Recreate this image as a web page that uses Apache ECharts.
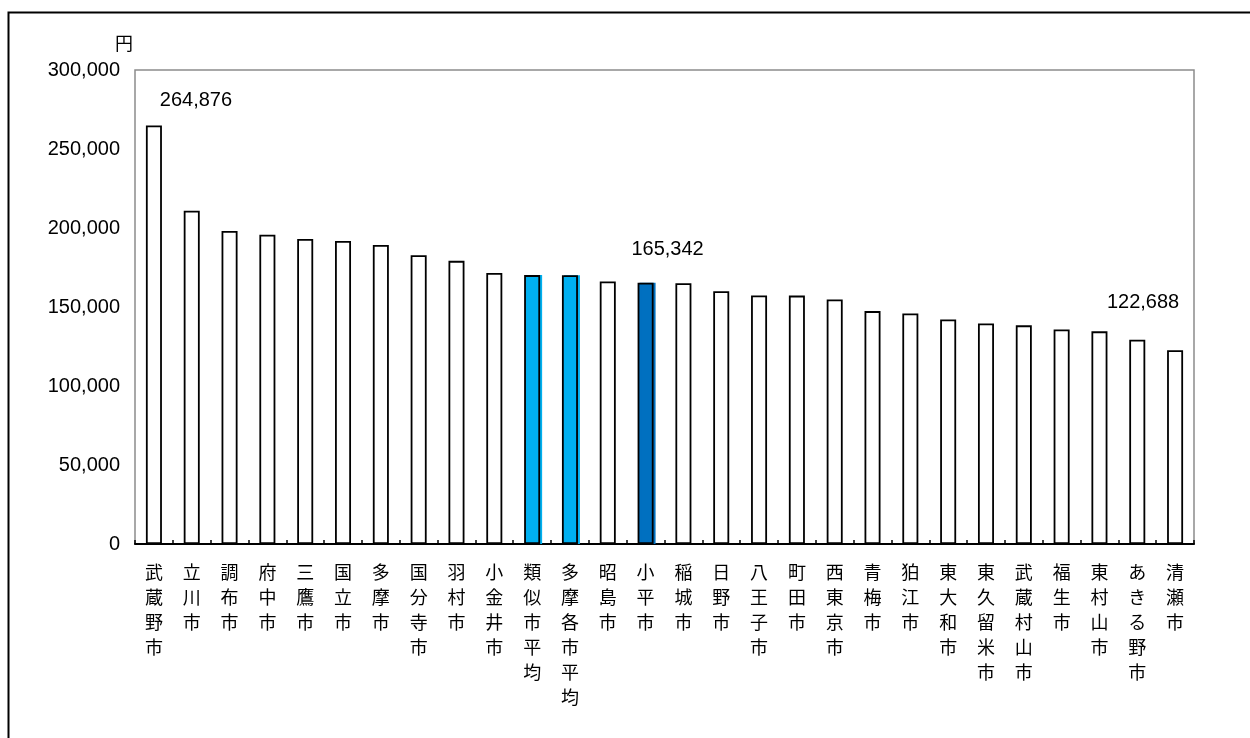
<!DOCTYPE html>
<html>
<head>
<meta charset="utf-8">
<script src="https://cdn.jsdelivr.net/npm/echarts@6/dist/echarts.min.js"></script>
<style>html,body{margin:0;padding:0;background:#fff;}#c{width:1250px;height:738px;}</style>
</head>
<body>
<div id="c"></div>
<script>
const categories = ['武蔵野市','立川市','調布市','府中市','三鷹市','国立市','多摩市','国分寺市','羽村市','小金井市','類似市平均','多摩各市平均','昭島市','小平市','稲城市','日野市','八王子市','町田市','西東京市','青梅市','狛江市','東大和市','東久留米市','武蔵村山市','福生市','東村山市','あきる野市','清瀬市'];
const values = [264876,210900,198100,195800,193100,191800,189300,182800,179200,171500,170200,170100,166100,165342,165000,160000,157300,157200,154800,147400,145900,142100,139600,138400,135800,134600,129300,122688];
const yTicks = [0,50000,100000,150000,200000,250000,300000];
const labeled = {0:[42,-10], 13:[22,-18], 27:[-32,-33]};
const colorMap = {'類似市平均':'#00B0F0','多摩各市平均':'#00B0F0','小平市':'#0070C0'};

const numFont = '"Liberation Sans", Arial, sans-serif';
const cjkFont = '"Noto Sans CJK JP", sans-serif';

const data = values.map((v,i)=>{
  const c = colorMap[categories[i]];
  const item = {value:v, itemStyle:{color: c || '#ffffff', borderColor:'#000', borderWidth:1.8}};
  if (c) { item.itemStyle.shadowColor = c; item.itemStyle.shadowOffsetX = 2; item.itemStyle.shadowBlur = 0; }
  if (labeled[i]) {
    item.label = {show:true, position:'top', distance:5, offset:labeled[i],
      formatter:(p)=>p.value.toLocaleString('en-US'), fontSize:20, color:'#000', fontFamily:numFont};
  }
  return item;
});

const chart = echarts.init(document.getElementById('c'), null, {renderer:'canvas'});
chart.setOption({
  animation:false,
  backgroundColor:'#fff',
  grid:{left:135, right:56, top:70, bottom:194, show:true, borderColor:'#8c8c8c', borderWidth:1.5, backgroundColor:'transparent'},
  graphic:[
    {type:'rect', shape:{x:8.5, y:12.5, width:1300, height:800}, style:{fill:'none', stroke:'#000', lineWidth:2}, silent:true, z:-1},
    {type:'text', x:124, y:43, style:{text:'円', fontSize:18, fontFamily:cjkFont, fill:'#000', align:'center', verticalAlign:'middle'}}
  ],
  xAxis:{
    type:'category', data:categories,
    axisLine:{show:true, lineStyle:{color:'#000', width:2}},
    axisTick:{show:true, inside:true, length:4, lineStyle:{color:'#000', width:1.5}},
    axisLabel:{interval:0, margin:16, fontSize:18, lineHeight:25, color:'#000', fontFamily:cjkFont,
      formatter:(v)=>v.split('').join('\n'), verticalAlign:'top'}
  },
  yAxis:{
    type:'value', min:0, max:300000, interval:50000,
    axisLine:{show:false}, axisTick:{show:false}, splitLine:{show:false},
    axisLabel:{margin:15, fontSize:20, color:'#000', fontFamily:numFont,
      formatter:(v)=>v.toLocaleString('en-US')}
  },
  series:[{type:'bar', data:data, barWidth:16}]
});
</script>
</body>
</html>
